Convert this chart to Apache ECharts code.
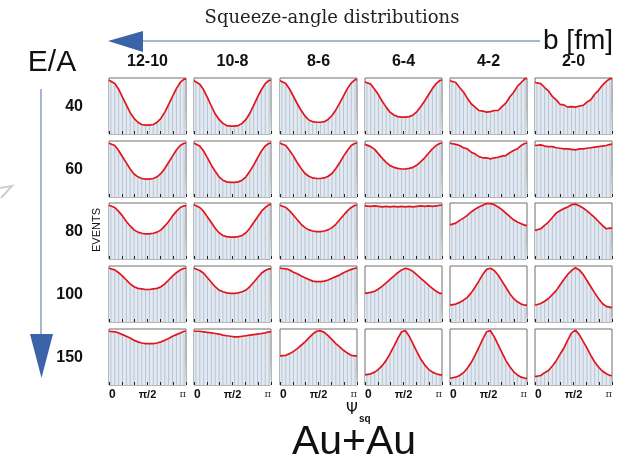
<!DOCTYPE html>
<html>
<head>
<meta charset="utf-8">
<script src="https://cdn.jsdelivr.net/npm/echarts@6/dist/echarts.min.js"></script>
<style>html,body{margin:0;padding:0;background:#fff;}#c{width:626px;height:462px;}</style>
</head>
<body>
<div id="c"></div>
<script>
// ---- data (relative counts per bin, 20 bins over 0..pi) ----
const bFm = ['12-10', '10-8', '8-6', '6-4', '4-2', '2-0'];
const eA = ['40', '60', '80', '100', '150'];
const psiTicks = ['0', 'π/2', 'π'];

const ea40 = [
  [.96,.90,.80,.66,.52,.38,.28,.21,.17,.16,.16,.17,.21,.28,.39,.53,.67,.81,.92,.98],
  [.95,.89,.79,.65,.50,.36,.26,.19,.15,.14,.14,.15,.19,.26,.37,.51,.66,.79,.90,.96],
  [.95,.90,.80,.67,.54,.42,.32,.25,.22,.21,.21,.22,.26,.33,.43,.55,.68,.81,.91,.97],
  [.93,.89,.80,.70,.58,.48,.39,.34,.31,.30,.30,.31,.34,.40,.49,.59,.70,.81,.90,.96],
  [.95,.92,.83,.75,.64,.54,.48,.42,.41,.39,.40,.42,.42,.49,.55,.66,.74,.85,.92,.99],
  [.92,.90,.83,.77,.67,.61,.53,.52,.48,.49,.48,.50,.51,.57,.61,.71,.78,.87,.94,.99]
];
const ea60 = [
  [.96,.92,.83,.72,.61,.50,.41,.36,.33,.32,.32,.33,.36,.42,.51,.62,.73,.84,.92,.96],
  [.96,.91,.82,.70,.57,.46,.36,.30,.27,.26,.26,.27,.30,.36,.46,.57,.70,.82,.91,.96],
  [.96,.92,.83,.73,.61,.51,.42,.37,.34,.33,.33,.34,.37,.42,.51,.61,.73,.83,.92,.96],
  [.94,.90,.85,.77,.69,.62,.56,.53,.51,.50,.50,.51,.53,.57,.63,.70,.78,.86,.92,.96],
  [.96,.94,.92,.88,.86,.80,.77,.72,.70,.70,.68,.70,.71,.73,.74,.79,.83,.86,.92,.96],
  [.92,.93,.91,.90,.90,.88,.87,.86,.86,.85,.84,.86,.86,.87,.88,.89,.90,.91,.92,.94]
];
const ea80 = [
  [.96,.92,.85,.77,.67,.59,.52,.48,.46,.45,.45,.46,.48,.52,.59,.67,.77,.85,.92,.95],
  [.97,.92,.85,.75,.65,.55,.47,.42,.40,.39,.39,.40,.42,.47,.55,.65,.75,.85,.92,.97],
  [.96,.92,.86,.78,.70,.62,.56,.52,.50,.49,.49,.50,.52,.56,.62,.70,.78,.86,.92,.96],
  [.95,.94,.95,.94,.93,.94,.93,.94,.93,.94,.93,.94,.93,.94,.95,.94,.95,.94,.95,.96],
  [.61,.64,.69,.73,.78,.84,.89,.93,.96,.99,.99,.97,.93,.88,.82,.76,.70,.66,.63,.60],
  [.51,.54,.60,.66,.74,.82,.86,.90,.93,.97,.98,.95,.91,.86,.80,.74,.67,.60,.54,.55]
];
const ea100 = [
  [.96,.93,.88,.82,.75,.68,.63,.60,.59,.58,.58,.59,.60,.63,.68,.75,.82,.88,.93,.96],
  [.96,.92,.87,.79,.71,.63,.57,.54,.52,.51,.51,.52,.54,.57,.63,.71,.79,.87,.92,.95],
  [.96,.95,.93,.89,.86,.82,.79,.76,.73,.72,.72,.73,.75,.78,.81,.84,.88,.91,.94,.96],
  [.51,.53,.55,.59,.64,.70,.76,.82,.88,.93,.96,.94,.90,.84,.78,.72,.66,.60,.55,.51],
  [.30,.32,.35,.39,.44,.52,.62,.73,.85,.94,.96,.92,.84,.73,.62,.51,.42,.36,.32,.30],
  [.30,.33,.37,.42,.49,.56,.66,.76,.85,.92,.97,.93,.85,.74,.63,.52,.42,.33,.28,.26]
];
const ea150 = [
  [.96,.95,.93,.90,.87,.84,.80,.77,.75,.74,.74,.74,.75,.77,.80,.83,.87,.90,.93,.96],
  [.96,.96,.95,.94,.93,.92,.91,.89,.88,.87,.86,.86,.87,.88,.89,.90,.91,.92,.93,.95],
  [.52,.53,.56,.60,.65,.71,.77,.84,.91,.96,.97,.94,.88,.81,.74,.68,.62,.57,.53,.52],
  [.18,.20,.23,.28,.35,.44,.56,.69,.83,.95,.97,.87,.73,.59,.46,.36,.28,.23,.20,.18],
  [.12,.14,.17,.22,.30,.40,.53,.67,.82,.95,.97,.86,.72,.58,.44,.33,.24,.18,.14,.12],
  [.15,.17,.22,.26,.34,.43,.55,.66,.80,.93,.98,.90,.78,.66,.53,.41,.32,.25,.20,.17]
];
const panels = [ea40, ea60, ea80, ea100, ea150];

// ---- layout ----
const colLeft = [109, 194, 280, 365, 450, 535];
const rowTop = [78, 141, 203, 266, 329];
const PW = 77, PH = 56;
const BINW = 3; // x units per bin; axis 0..60

const grids = [], xAxes = [], yAxes = [], series = [];
panels.forEach((row, r) => {
  row.forEach((vals, c) => {
    const g = grids.length;
    const n = vals.length, m = n * BINW;
    grids.push({left: colLeft[c], top: rowTop[r], width: PW, height: PH,
      show: true, borderColor: '#6f6f6f', borderWidth: 1, backgroundColor: '#fff'});
    const last = r === panels.length - 1;
    xAxes.push({gridIndex: g, type: 'value', min: 0, max: m, interval: m / 6, z: 6,
      axisLine: {show: false}, splitLine: {show: false},
      axisTick: {show: true, inside: true, length: 3, lineStyle: {color: '#222', width: 1}},
      axisLabel: {show: last, margin: 4, alignMinLabel: 'left', alignMaxLabel: 'right',
        formatter: v => {
          if (v === 0) return '{a|' + psiTicks[0] + '}';
          if (v === m / 2) return '{b|' + psiTicks[1] + '}';
          if (v === m) return '{c|' + psiTicks[2] + '}';
          return '';
        },
        rich: {
          a: {fontFamily: 'Liberation Sans', fontWeight: 'bold', fontSize: 12, color: '#111'},
          b: {fontFamily: 'Liberation Sans', fontWeight: 'bold', fontSize: 11, color: '#111'},
          c: {fontFamily: 'DejaVu Serif', fontSize: 10, color: '#333'}
        }}
    });
    yAxes.push({gridIndex: g, type: 'value', min: 0, max: 1, show: false});
    const centerPts = vals.map((v, i) => [i * BINW + BINW / 2, v]);
    const lineData = [[0, vals[0]]].concat(centerPts, [[m, vals[n - 1]]]);
    series.push({type: 'line', xAxisIndex: g, yAxisIndex: g, data: lineData, symbol: 'none',
      lineStyle: {width: 0, opacity: 0}, areaStyle: {color: '#e3e9f0', opacity: 1}, z: 2, silent: true});
    series.push({type: 'bar', xAxisIndex: g, yAxisIndex: g, data: centerPts, barWidth: 1,
      itemStyle: {color: '#b7c4d5'}, z: 3, silent: true});
    series.push({type: 'line', xAxisIndex: g, yAxisIndex: g, data: lineData, symbol: 'none',
      lineStyle: {color: '#e3141b', width: 1.7}, z: 4, silent: true});
  });
});

const graphics = [];
const txt = (x, y, text, font, align, vAlign, fill, extra) => Object.assign({type: 'text', x: x, y: y,
  style: {text: text, font: font, textAlign: align, textVerticalAlign: vAlign, fill: fill || '#111'}}, extra || {});

graphics.push(txt(332, 18, 'Squeeze-angle distributions', '18px "DejaVu Serif"', 'center', 'middle', '#222'));
graphics.push({type: 'line', shape: {x1: 140, y1: 41, x2: 540, y2: 41}, style: {stroke: '#4a6fa8', lineWidth: 1}});
graphics.push({type: 'polygon', shape: {points: [[108, 41], [143, 31], [143, 52]]}, style: {fill: '#3a63a8'}});
graphics.push(txt(543, 41, 'b [fm]', '28px "Liberation Sans"', 'left', 'middle'));
graphics.push(txt(52, 63, 'E/A', '30px "Liberation Sans"', 'center', 'middle'));
graphics.push({type: 'line', shape: {x1: 41, y1: 89, x2: 41, y2: 340}, style: {stroke: '#4a6fa8', lineWidth: 1}});
graphics.push({type: 'polygon', shape: {points: [[30, 334], [53, 334], [41.5, 378]]}, style: {fill: '#3a63a8'}});
graphics.push({type: 'polyline', shape: {points: [[0, 188], [12, 186], [1, 198]]}, style: {stroke: '#cfcfcf', lineWidth: 2, fill: null}});
eA.forEach((e, r) => graphics.push(txt(83, rowTop[r] + 29, e, 'bold 16px "Liberation Sans"', 'right', 'middle')));
bFm.forEach((b, c) => graphics.push(txt(colLeft[c] + PW / 2, 62, b, 'bold 16px "Liberation Sans"', 'center', 'middle')));
graphics.push(txt(97, 230, 'EVENTS', '11px "Liberation Sans"', 'center', 'middle', '#111', {rotation: Math.PI / 2}));
graphics.push(txt(352, 410, 'Ψ', '15px "DejaVu Sans"', 'center', 'middle'));
graphics.push(txt(359, 419, 'sq', 'bold 10px "Liberation Sans"', 'left', 'middle'));
graphics.push(txt(354, 443, 'Au+Au', '41px "Liberation Sans"', 'center', 'middle'));

const chart = echarts.init(document.getElementById('c'), null, {renderer: 'canvas'});
chart.setOption({animation: false, backgroundColor: '#fff', grid: grids, xAxis: xAxes, yAxis: yAxes,
  series: series, graphic: graphics});
</script>
</body>
</html>
